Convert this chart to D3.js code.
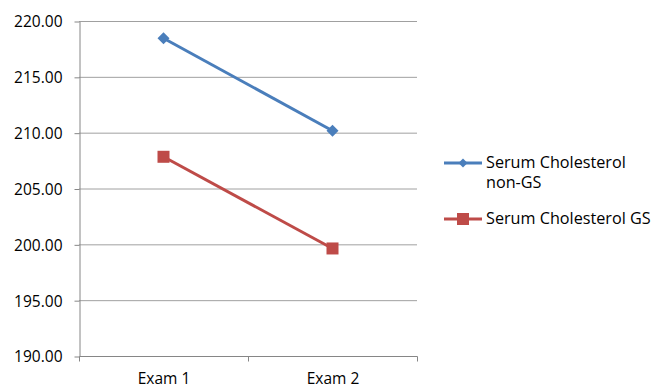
<!DOCTYPE html>
<html>
<head>
<meta charset="utf-8">
<script src="https://cdn.jsdelivr.net/npm/d3@7"></script>
<style>
  body { margin: 0; background: #fff; }
  text { font-family: "Open Sans", "DejaVu Sans", sans-serif; fill: #000; }
</style>
</head>
<body>
<svg id="chart" width="652" height="388"></svg>
<script>
// Exam categories and mean serum cholesterol per group
const categories = ["Exam 1", "Exam 2"];
const nonGS = [218.45, 210.17];
const gs = [207.84, 199.63];
const yTicks = [190, 195, 200, 205, 210, 215, 220];
const seriesNames = ["Serum Cholesterol non-GS", "Serum Cholesterol GS"];

(function () {
const svg = d3.select("#chart");
const plotLeft = 79, plotRight = 417, plotTop = 21, plotBottom = 356;

const x = d3.scaleBand().domain(categories).range([plotLeft, plotRight]);
const y = d3.scaleLinear().domain([190, 220]).range([plotBottom, plotTop]);

// horizontal gridlines
svg.append("g").selectAll("line").data(yTicks.filter(d => d !== 190)).join("line")
  .attr("x1", plotLeft).attr("x2", plotRight)
  .attr("y1", d => y(d) + 0.5).attr("y2", d => y(d) + 0.5)
  .attr("stroke", "#a0a0a0").attr("stroke-width", 1);

// y axis
const yAxis = d3.axisLeft(y).tickValues(yTicks).tickFormat(d3.format(".2f")).tickSize(5).tickSizeOuter(0);
const gy = svg.append("g").attr("transform", `translate(${plotLeft + 0.5},0.5)`).call(yAxis);
gy.select(".domain").attr("stroke", "#868686");
gy.selectAll(".tick line").attr("stroke", "#868686");
gy.selectAll(".tick text").attr("x", -17).attr("dy", "0.35em")
  .style("font-size", "15.5px").style("font-family", "\"Open Sans\", sans-serif").attr("fill", "#000");

// x axis with tick marks at category boundaries
const gx = svg.append("g").attr("transform", `translate(0.5,${plotBottom + 0.5})`);
gx.append("line").attr("x1", plotLeft).attr("x2", plotRight).attr("stroke", "#868686");
const bounds = [plotLeft, plotLeft + x.step(), plotRight];
gx.selectAll("line.b").data(bounds).join("line").attr("class", "b")
  .attr("x1", d => d).attr("x2", d => d).attr("y1", 0).attr("y2", 5).attr("stroke", "#868686");
gx.selectAll("text").data(categories).join("text")
  .attr("x", d => x(d) + x.bandwidth() / 2).attr("y", 27)
  .attr("text-anchor", "middle").style("font-size", "15.5px").text(d => d);

const cx = i => x(categories[i]) + x.bandwidth() / 2;
const line = d3.line().x((d, i) => cx(i)).y(d => y(d));

// series lines
svg.append("path").datum(nonGS).attr("d", line).attr("fill", "none")
  .attr("stroke", "#4a7ebb").attr("stroke-width", 3);
svg.append("path").datum(gs).attr("d", line).attr("fill", "none")
  .attr("stroke", "#be4b48").attr("stroke-width", 3);

// markers
svg.append("g").selectAll("path").data(nonGS).join("path")
  .attr("transform", (d, i) => `translate(${cx(i)},${y(d)}) rotate(45)`)
  .attr("d", d3.symbol().type(d3.symbolSquare).size(72)).attr("fill", "#4a7ebb");
svg.append("g").selectAll("rect").data(gs).join("rect")
  .attr("x", (d, i) => cx(i) - 6)
  .attr("y", d => y(d) - 6).attr("width", 12).attr("height", 12).attr("fill", "#be4b48");

// legend
const lg = svg.append("g");
lg.append("line").attr("x1", 444).attr("x2", 482).attr("y1", 163).attr("y2", 163)
  .attr("stroke", "#4a7ebb").attr("stroke-width", 3);
lg.append("path").attr("transform", "translate(463,163) rotate(45)")
  .attr("d", d3.symbol().type(d3.symbolSquare).size(40)).attr("fill", "#4a7ebb");
lg.append("text").attr("x", 486).attr("y", 168).style("font-size", "16.2px").text("Serum Cholesterol");
lg.append("text").attr("x", 486).attr("y", 188).style("font-size", "16.2px").text("non-GS");

lg.append("line").attr("x1", 444).attr("x2", 482).attr("y1", 219).attr("y2", 219)
  .attr("stroke", "#be4b48").attr("stroke-width", 3);
lg.append("rect").attr("x", 457).attr("y", 213).attr("width", 12).attr("height", 12).attr("fill", "#be4b48");
lg.append("text").attr("x", 486).attr("y", 224).style("font-size", "16.2px").text(seriesNames[1]);
})();
</script>
</body>
</html>
